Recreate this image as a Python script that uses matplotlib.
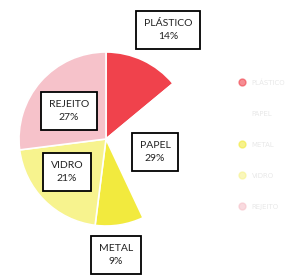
import matplotlib.pyplot as plt
from matplotlib.lines import Line2D

# slices, clockwise from 12 o'clock
labels = ['PLÁSTICO', 'PAPEL', 'METAL', 'VIDRO', 'REJEITO']
values = [14, 29, 9, 21, 27]
colors = ['#f0424c', '#ffffff', '#f2ea3e', '#f7f38e', '#f6c2ca']

# label box centres in pixel space (x, y from top)
label_pos = [(168, 30), (155, 152), (116, 255), (67, 172), (69, 111)]

W, H = 295, 280
fig = plt.figure(figsize=(W / 100, H / 100), dpi=100)
ax = fig.add_axes([0, 0, 1, 1])

ax.pie(values, colors=colors, startangle=90, counterclock=False,
       center=(106, H - 139), radius=87,
       wedgeprops=dict(edgecolor='white', linewidth=1.2))
ax.set_xlim(0, W)
ax.set_ylim(0, H)
ax.set_aspect('equal')
ax.axis('off')

for name, v, (x, y) in zip(labels, values, label_pos):
    ax.text(x, H - y, f'{name}\n{v}%', ha='center', va='center',
            fontsize=7.5, family='Lato', color='#222222', linespacing=1.7,
            bbox=dict(boxstyle='square,pad=0.75', fc='white', ec='black', lw=1.3))

handles = [Line2D([], [], marker='o', ls='', markersize=5, color=c, alpha=0.6)
           for c in colors]
fig.legend(handles, labels, loc='upper left', bbox_to_anchor=(0.775, 0.74),
           frameon=False, fontsize=5, labelcolor='#e8e8e8', labelspacing=3.6,
           handletextpad=0.4)

fig.savefig('out.png', dpi=100)
